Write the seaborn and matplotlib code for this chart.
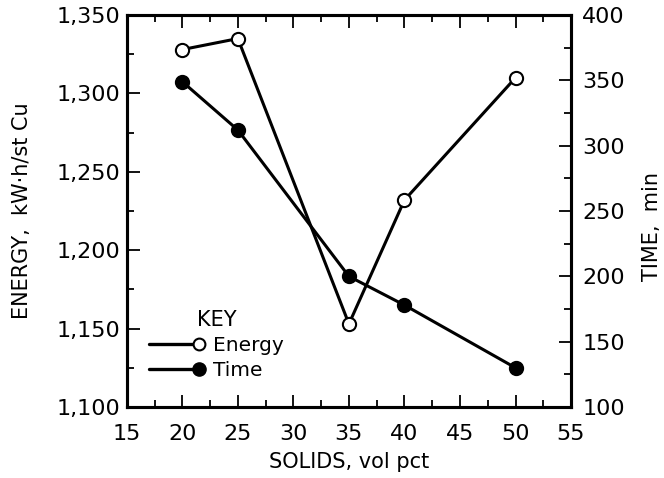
import numpy as np
import pandas as pd
import seaborn as sns
import matplotlib
matplotlib.use("Agg")
import matplotlib.pyplot as plt
from matplotlib.lines import Line2D
from matplotlib.legend_handler import HandlerLine2D
from matplotlib.ticker import MultipleLocator, StrMethodFormatter

solids = [20, 25, 35, 40, 50]
energy = [1328, 1335, 1153, 1232, 1310]
time_min = [349, 312, 200, 178, 130]

x_ticks = [15, 20, 25, 30, 35, 40, 45, 50, 55]
energy_ticks = [1100, 1150, 1200, 1250, 1300, 1350]
time_ticks = [100, 150, 200, 250, 300, 350, 400]


class EndMarker(HandlerLine2D):
    # marker sits at the right end of the key line, as in the original
    def create_artists(self, *args, **kwargs):
        arts = super().create_artists(*args, **kwargs)
        for a in arts:
            if isinstance(a, Line2D) and a.get_markevery() is not None:
                a.set_markevery([2])
        return arts


sns.set_theme(style="ticks", rc={'text.color': 'black', 'axes.labelcolor': 'black',
                                 'xtick.color': 'black', 'ytick.color': 'black',
                                 'axes.edgecolor': 'black'})
plt.rcParams['font.family'] = ['DejaVu Sans']

df = pd.DataFrame({'solids': solids, 'energy': energy, 'time': time_min})

fig = plt.figure(figsize=(6.64, 4.78), dpi=100)
ax = fig.add_axes([0.191, 0.1485, 0.669, 0.82])
ax2 = ax.twinx()

sns.lineplot(data=df, x='solids', y='energy', ax=ax, color='black', lw=2.2,
             marker='o', markersize=9.5, markerfacecolor='white',
             markeredgecolor='black', markeredgewidth=1.5, zorder=3)
sns.lineplot(data=df, x='solids', y='time', ax=ax2, color='black', lw=2.2,
             marker='o', markersize=9.5, markerfacecolor='black',
             markeredgecolor='black', markeredgewidth=1.5, zorder=3)

ax.set_xlim(x_ticks[0], x_ticks[-1])
ax.set_ylim(energy_ticks[0], energy_ticks[-1])
ax2.set_ylim(time_ticks[0], time_ticks[-1])
ax.set_xticks(x_ticks)
ax.set_yticks(energy_ticks)
ax2.set_yticks(time_ticks)
ax.xaxis.set_minor_locator(MultipleLocator(2.5))
ax.yaxis.set_minor_locator(MultipleLocator(25))
ax2.yaxis.set_minor_locator(MultipleLocator(25))
ax.yaxis.set_major_formatter(StrMethodFormatter('{x:,.0f}'))

ax.tick_params(axis='x', which='both', direction='in', top=True, bottom=True,
               labelsize=16, pad=12, width=1.3)
ax.tick_params(axis='y', which='both', direction='in', left=True, right=False,
               labelsize=16, pad=5, width=1.3)
ax2.tick_params(axis='y', which='both', direction='in', labelsize=16, pad=8, width=1.3)
for a in (ax, ax2):
    a.tick_params(which='major', length=9)
    a.tick_params(which='minor', length=5)
    for s in a.spines.values():
        s.set_linewidth(2.2)
        s.set_visible(True)

ax.set_xlabel('SOLIDS, vol pct', fontsize=15, labelpad=6)
ax.set_ylabel('ENERGY,  kW·h/st Cu', fontsize=15)
ax2.set_ylabel('TIME,  min', fontsize=15)
ax.yaxis.set_label_coords(-0.214, 0.5)
ax2.yaxis.set_label_coords(1.16, 0.46)

handles = [
    Line2D([], [], color='black', lw=2.4, marker='o', markersize=8.5,
           markerfacecolor='white', markeredgecolor='black', markeredgewidth=1.5),
    Line2D([], [], color='black', lw=2.4, marker='o', markersize=9.5,
           markerfacecolor='black', markeredgecolor='black'),
]
leg = ax2.legend(handles, ['Energy', 'Time'], title='KEY', loc='upper left',
                 bbox_to_anchor=(0.05, 0.248), frameon=False, fontsize=14.5,
                 title_fontsize=15, handlelength=2.5, handletextpad=0.7,
                 labelspacing=0.3, borderpad=0, borderaxespad=0, numpoints=1,
                 handler_map={Line2D: EndMarker()})

fig.savefig('out.png', dpi=100)
